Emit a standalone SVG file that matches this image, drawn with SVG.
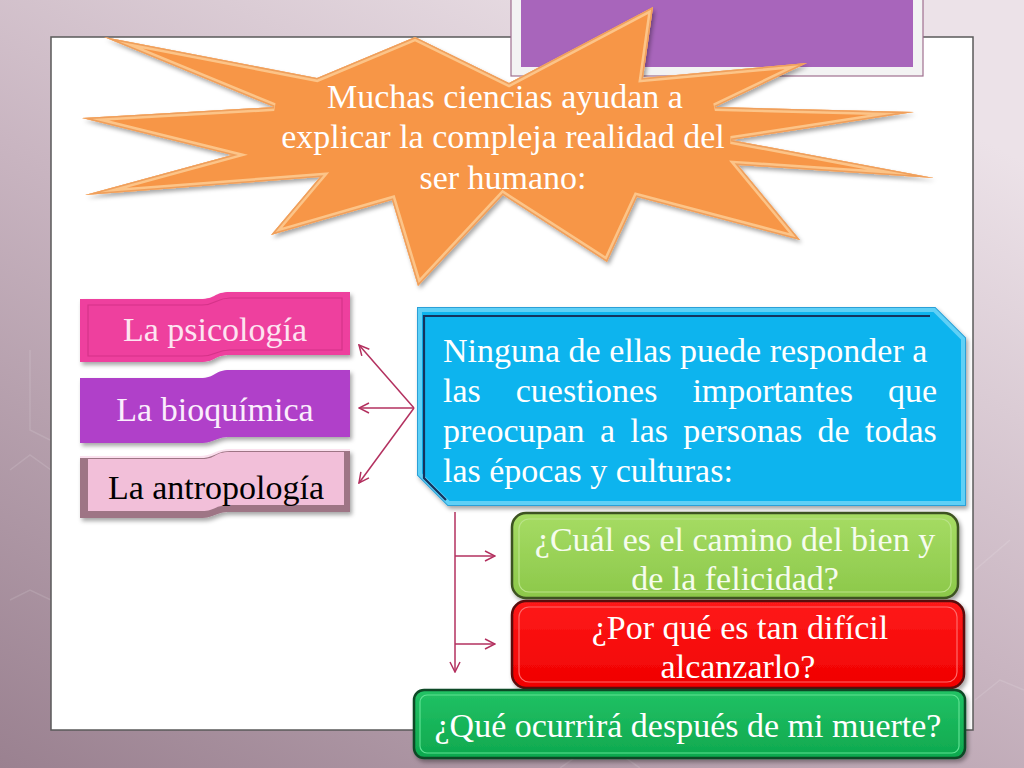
<svg xmlns="http://www.w3.org/2000/svg" width="1024" height="768" viewBox="0 0 1024 768">
<defs>
  <linearGradient id="bg" x1="0" y1="1" x2="0.7" y2="0">
    <stop offset="0" stop-color="#9a8190"/>
    <stop offset="0.55" stop-color="#c9b5c1"/>
    <stop offset="1" stop-color="#ece2e8"/>
  </linearGradient>
  <linearGradient id="gGreen" x1="0" y1="0" x2="0" y2="1">
    <stop offset="0" stop-color="#a6dc64"/>
    <stop offset="1" stop-color="#8cc84a"/>
  </linearGradient>
  <linearGradient id="gRed" x1="0" y1="0" x2="0" y2="1">
    <stop offset="0" stop-color="#ff1a1a"/>
    <stop offset="1" stop-color="#f00000"/>
  </linearGradient>
  <linearGradient id="gDark" x1="0" y1="0" x2="0" y2="1">
    <stop offset="0" stop-color="#22c265"/>
    <stop offset="1" stop-color="#0ea84e"/>
  </linearGradient>
  <filter id="sh" x="-10%" y="-10%" width="125%" height="130%">
    <feDropShadow dx="2" dy="3" stdDeviation="2" flood-color="#000" flood-opacity="0.35"/>
  </filter>
  <marker id="ah" viewBox="0 0 12 12" refX="11" refY="6" markerWidth="12" markerHeight="12" markerUnits="userSpaceOnUse" orient="auto">
    <path d="M1,1 L11,6 L1,11" fill="none" stroke="#b3305f" stroke-width="1.5"/>
  </marker>
  <polygon id="star" points="104,37 317,78 415,37 509,83 653,7 643,78 807,63 715,107 914,112 731,140 934,178 738,165 800,240 637,197 607,262 503,195 418,286 392,200 271,235 320,177 85,195 232,155 82,118 274,107"/>
  <clipPath id="starClip"><use href="#star"/></clipPath>
  <path id="blue" d="M418,308 L935,308 L965,338 L965,505 L448,505 L418,475 Z"/>
  <clipPath id="blueClip"><use href="#blue"/></clipPath>
  <style>
    .t { font-family: "Liberation Serif", "Times New Roman", serif; font-size: 34px; }
    .w { fill: #ffffff; }
    .c { text-anchor: middle; }
    .conn { fill: none; stroke: #b3305f; stroke-width: 1.5; marker-end: url(#ah); }
  </style>
</defs>

<!-- background -->
<rect x="0" y="0" width="1024" height="768" fill="url(#bg)"/>
<g stroke="#ffffff" stroke-opacity="0.12" fill="none" stroke-width="1.5">
  <path d="M30,350 L30,430 L50,440"/>
  <path d="M10,470 L30,455 L51,470"/>
  <path d="M10,600 L30,590 L51,600 L51,680"/>
  <path d="M975,570 L1010,540"/>
  <path d="M975,700 L1000,680 L1024,690"/>
  <path d="M560,768 L600,740 L640,768"/>
</g>
<!-- white panel -->
<rect id="panel" x="51" y="37" width="922" height="693" fill="#ffffff" stroke="#5a5a5a" stroke-width="1.5"/>

<!-- title box (purple) -->
<g id="title-box">
  <rect x="511" y="-2" width="412" height="78" fill="#f3f3f3" stroke="#a07090" stroke-width="1.2"/>
  <rect x="521" y="-2" width="392" height="69" fill="#a865bb"/>
</g>

<!-- starburst -->
<g id="starburst">
  <use href="#star" fill="#f79646" filter="url(#sh)"/>
  <use href="#star" fill="none" stroke="#fcc488" stroke-width="8" clip-path="url(#starClip)"/>
  <use href="#star" fill="none" stroke="#e9904a" stroke-width="3" stroke-opacity="0.7" clip-path="url(#starClip)"/>
  <text class="t w c" x="505" y="108">Muchas ciencias ayudan a</text>
  <text class="t w c" x="503" y="148">explicar la compleja realidad del</text>
  <text class="t w c" x="503" y="189">ser humano:</text>
</g>

<!-- ribbons -->
<g id="psicologia">
  <path d="M80,299 L200,299 C216,299 214,292 230,292 L350,292 L350,355 L230,355 C214,355 216,362 200,362 L80,362 Z" fill="#ee3f9e" filter="url(#sh)"/>
  <path d="M88,305 L202,305 C216,305 216,298 230,298 L342,298 L342,350 L230,350 C216,350 216,356 202,356 L88,356 Z" fill="none" stroke="#c42a7c" stroke-opacity="0.6" stroke-width="1.2"/>
  <text class="t c" x="215" y="341" fill="#fde4f1">La psicología</text>
</g>
<g id="bioquimica">
  <path d="M80,378 L200,378 C216,378 214,370 230,370 L350,370 L350,437 L230,437 C214,437 216,443 200,443 L80,443 Z" fill="#b03fc9" filter="url(#sh)"/>
  <text class="t c" x="215" y="421" fill="#fbeefc">La bioquímica</text>
</g>
<g id="antropologia">
  <path d="M80,457 L200,457 C216,457 214,450 230,450 L350,450 L350,512 L230,512 C214,512 216,518 200,518 L80,518 Z" fill="#9e7585" filter="url(#sh)"/>
  <path d="M88,459 L202,459 C216,459 214,452 230,452 L344,452 L344,505 L230,505 C214,505 216,511 202,511 L88,511 Z" fill="#f2bfd9"/>
  <path d="M80,457 L200,457 C216,457 214,450 230,450 L350,450" fill="none" stroke="#fbe0ee" stroke-width="2"/>
  <text class="t c" x="216" y="499" fill="#000000">La antropología</text>
</g>

<!-- connectors -->
<g id="connectors">
  <line class="conn" x1="414" y1="408" x2="359" y2="345"/>
  <line class="conn" x1="414" y1="408" x2="359" y2="408"/>
  <line class="conn" x1="414" y1="408" x2="359" y2="483"/>
  <line class="conn" x1="455" y1="512" x2="455" y2="672"/>
  <line class="conn" x1="455" y1="556" x2="495" y2="556"/>
  <line class="conn" x1="455" y1="644" x2="495" y2="644"/>
</g>

<!-- blue box -->
<g id="blue-box">
  <use href="#blue" fill="#0bb4ee" stroke="#2aa0d8" stroke-width="2" filter="url(#sh)"/>
  <use href="#blue" fill="none" stroke="#5fd0f6" stroke-width="8" clip-path="url(#blueClip)"/>
  <path d="M446,500 L424,478 L424,316 L930,316" fill="none" stroke="#14335e" stroke-width="2.2"/>
  <text class="t w" x="443" y="362">Ninguna de ellas puede responder a</text>
  <text class="t w" x="443" y="402" word-spacing="26.5">las cuestiones importantes que</text>
  <text class="t w" x="443" y="442" word-spacing="6.8">preocupan a las personas de todas</text>
  <text class="t w" x="443" y="482">las épocas y culturas:</text>
</g>

<!-- question boxes -->
<g id="q1">
  <rect x="512" y="513" width="446" height="85" rx="14" fill="url(#gGreen)" stroke="#3d5220" stroke-width="2.5" filter="url(#sh)"/>
  <rect x="519" y="519" width="432" height="73" rx="10" fill="none" stroke="#b9e388" stroke-width="1.2"/>
  <text class="t c" x="735" y="551" fill="#f6fcee">¿Cuál es el camino del bien y</text>
  <text class="t c" x="735" y="590" fill="#f6fcee">de la felicidad?</text>
</g>
<g id="q2">
  <rect x="512" y="601" width="452" height="87" rx="14" fill="url(#gRed)" stroke="#5a0a0a" stroke-width="2.5" filter="url(#sh)"/>
  <rect x="519" y="607" width="438" height="75" rx="10" fill="none" stroke="#ff6a6a" stroke-width="1.2"/>
  <text class="t w c" x="740" y="639">¿Por qué es tan difícil</text>
  <text class="t w c" x="738" y="678">alcanzarlo?</text>
</g>
<g id="q3">
  <rect x="414" y="690" width="551" height="68" rx="10" fill="url(#gDark)" stroke="#0b4a26" stroke-width="2.5" filter="url(#sh)"/>
  <rect x="420" y="695" width="539" height="58" rx="7" fill="none" stroke="#5ee292" stroke-width="1.2"/>
  <text class="t w c" x="688" y="737">¿Qué ocurrirá después de mi muerte?</text>
</g>
</svg>
